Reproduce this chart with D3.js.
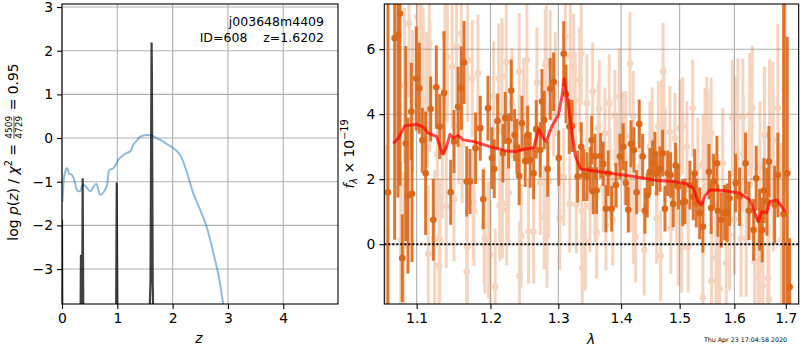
<!DOCTYPE html>
<html>
<head>
<meta charset="utf-8">
<script src="https://cdn.jsdelivr.net/npm/d3@7"></script>
<style>
  body { margin: 0; background: #fff; }
  text { font-family: "DejaVu Sans", sans-serif; fill: #000; }
</style>
</head>
<body>
<div id="chart"></div>
<script>
// ---- left panel: log p(z) ----
var zCoarse = [0.01,0.03,0.055,0.085,0.10,0.13,0.175,0.205,0.24,0.265,0.30,0.335,0.36,0.385,0.42,0.46,0.49,0.52,0.555,0.597,0.627,0.66,0.687,0.72,0.78,0.82,0.845,0.87,0.92,0.99,1.02,1.08,1.17,1.23,1.29,1.35,1.41,1.53,1.62,1.71,1.83,1.95,2.07,2.15,2.25,2.37,2.50,2.62,2.74,2.86,2.93];
var logpCoarse = [-1.45,-0.97,-0.79,-0.69,-0.70,-0.82,-0.84,-0.90,-1.05,-1.18,-1.22,-1.21,-1.10,-1.07,-1.10,-1.15,-1.20,-1.22,-1.14,-1.07,-1.05,-1.20,-1.30,-1.28,-1.18,-1.05,-0.76,-0.72,-0.70,-0.57,-0.50,-0.42,-0.34,-0.31,-0.15,-0.06,0.03,0.07,0.06,0.0,-0.08,-0.18,-0.29,-0.42,-0.75,-1.25,-1.65,-2.05,-2.65,-3.35,-3.95];
var zFine = [0.0,0.008,0.33,0.343,0.352,0.362,0.374,0.388,0.975,0.99,1.005,1.56,1.60,1.617,1.62,1.625,1.64,1.66,4.99];
var logpFine = [-1.87,-5,-5,-2.67,-5,-5,-0.92,-5,-5,-1.02,-5,-5,-3.3,1.5,2.19,1.5,-3.3,-5,-5];
var zTicks = [0,1,2,3,4];
var logpTicks = [-3,-2,-1,0,1,2,3];

// ---- right panel: spectrum ----
var darkWave = [1.0634,1.0718,1.0760,1.0786,1.0815,1.0859,1.0888,1.0931,1.0940,1.0995,
  1.1034,1.1073,1.1117,1.1183,1.1218,1.1258,1.1303,1.1361,1.1450,1.1495,
  1.1550,1.1595,1.1632,1.1669,1.1714,1.1792,1.1857,1.1899,1.1965,1.2021,
  1.2054,1.2102,1.2178,1.2211,1.2260,1.2298,1.2347,1.2380,1.2414,1.2454,
  1.2502,1.2538,1.2576,1.2627,1.2666,1.2726,1.2752,1.2786,1.2838,1.2877,
  1.2929,1.3006,1.3083,1.3118,1.3169,1.3211,1.3300,1.3356,1.3394,1.3446,
  1.3499,1.3521,1.3547,1.3574,1.3601,1.3665,1.3707,1.3751,1.3788,1.3844,
  1.3914,1.3980,1.4034,1.4079,1.4118,1.4163,1.4213,1.4258,1.4302,1.4359,
  1.4398,1.4438,1.4483,1.4529,1.4569,1.4598,1.4655,1.4702,1.4742,1.4789,
  1.4841,1.4887,1.4929,1.4976,1.5054,1.5094,1.5183,1.5243,1.5268,1.5297,
  1.5358,1.5417,1.5527,1.5568,1.5613,1.5674,1.5692,1.5754,1.5817,1.5865,
  1.5910,1.6023,1.6099,1.6213,1.6277,1.6367,1.6417,1.6483,1.6534,1.6567,
  1.6626,1.6665,1.6778,1.6843,1.6957,1.7030,1.7078];
var darkFlux = [1.6,6.34,6.44,7.1,-0.43,3.1,1.5,4.08,1.55,5.1,
  4.8,3.2,2.18,4.16,0.75,4.83,3.62,4.65,1.6,3.16,
  4.23,4.8,5.59,1.93,1.93,2.95,3.57,1.38,4.18,2.65,
  2.32,3.79,2.8,3.88,3.18,4.73,3.36,3.0,2.1,3.72,
  2.56,3.36,2.59,2.18,3.54,2.9,4.39,3.82,2.31,4.78,
  5.0,2.65,5.86,4.62,3.62,3.64,2.08,3.0,2.13,2.08,
  2.29,3.2,1.62,2.7,1.65,2.72,2.47,1.09,2.18,1.09,
  1.82,2.7,3.0,1.88,1.06,3.09,2.9,1.6,3.7,2.7,
  1.03,1.5,2.23,2.49,2.75,2.18,2.31,2.8,1.09,2.18,
  2.13,1.24,2.42,1.77,1.28,1.31,1.82,1.46,2.18,1.26,
  0.95,0.54,2.23,1.11,1.93,2.49,1.03,0.75,0.97,0.97,
  1.41,1.88,1.46,2.49,1.03,0.44,2.03,0.75,0.44,1.65,
  1.31,2.54,1.21,2.13,0.93,2.18,-1.32];
var darkErr = [12,6.2,5.0,5.3,1.35,3.0,2.4,1.5,2.1,1.6,
  1.4,1.0,1.9,1.0,1.26,1.28,1.0,1.9,1.0,0.97,
  1.23,1.28,1.28,1.08,1.0,1.1,1.0,0.92,1.0,0.95,
  0.9,0.85,0.9,0.8,0.85,0.95,0.8,0.85,0.9,0.85,
  0.8,0.9,0.85,0.8,0.9,0.85,1.0,0.9,0.85,0.95,
  0.9,0.85,1.0,0.9,0.85,0.8,0.8,0.75,0.8,0.75,
  0.7,0.75,0.7,0.7,0.72,0.7,0.68,0.72,0.7,0.7,
  0.68,0.7,0.72,0.68,0.7,0.72,0.7,0.68,0.75,0.7,
  0.7,0.68,0.72,0.7,0.7,0.68,0.7,0.72,0.7,0.7,
  0.7,0.72,0.7,0.7,0.72,0.7,0.75,0.72,0.75,0.75,
  0.8,0.8,0.85,0.8,0.85,0.85,0.8,0.85,0.85,0.9,
  0.85,0.9,0.9,0.95,0.9,0.95,1.0,0.95,1.0,1.0,
  1.05,1.1,1.2,1.3,7.0,4.2,1.5];

var lightWave = [1.0618,1.0795,1.0834,1.0843,1.0901,1.0946,1.1008,1.1043,1.1065,1.1086,
  1.1130,1.1139,1.1151,1.1165,1.1174,1.1236,1.1272,1.1294,1.1307,1.1338,
  1.1374,1.1391,1.1404,1.1471,1.1495,1.1530,1.1561,1.1595,1.1606,1.1669,
  1.1677,1.1682,1.1746,1.1760,1.1770,1.1825,1.1909,1.1923,1.1974,1.1997,
  1.2045,1.2067,1.2117,1.2131,1.2164,1.2170,1.2226,1.2232,1.2260,1.2308,
  1.2414,1.2419,1.2443,1.2479,1.2527,1.2551,1.2627,1.2676,1.2726,1.2786,
  1.2802,1.2817,1.2827,1.2853,1.2877,1.2929,1.2954,1.3021,1.3083,1.3108,
  1.3176,1.3185,1.3238,1.3263,1.3279,1.3332,1.3356,1.3367,1.3372,1.3420,
  1.3446,1.3494,1.3537,1.3574,1.3601,1.3627,1.3643,1.3707,1.3733,1.3751,
  1.3805,1.3816,1.3860,1.3897,1.3925,1.3969,1.4034,1.4062,1.4079,1.4146,
  1.4152,1.4201,1.4207,1.4241,1.4313,1.4386,1.4483,1.4522,1.4598,1.4604,
  1.4626,1.4667,1.4684,1.4710,1.4723,1.4742,1.4829,1.4846,1.4917,1.4946,
  1.4976,1.5005,1.5037,1.5054,1.5129,1.5152,1.5231,1.5326,1.5417,1.5420,
  1.5457,1.5488,1.5508,1.5568,1.5575,1.5656,1.5692,1.5723,1.5782,1.5847,
  1.5910,1.5960,1.6004,1.6023,1.6067,1.6126,1.6162,1.6168,1.6225,1.6290,
  1.6321,1.6340,1.6386,1.6452,1.6483,1.6489,1.6548,1.6580,1.6645,1.6665,
  1.6678,1.6744,1.6750,1.6843,1.6908,1.6978];
var lightFlux = [0.46,0.13,-0.07,4.87,6.8,4.39,7.0,6.4,6.44,5.08,
  4.44,4.39,-0.3,6.18,4.85,0.19,2.75,-0.66,0.13,2.8,
  6.44,1.16,5.75,5.46,1.38,6.08,3.64,6.49,3.06,-0.84,
  -0.09,5.67,5.1,1.28,1.03,5.26,0.57,0.18,0.13,-0.33,
  4.54,-1.32,5.09,1.19,5.16,1.26,5.6,1.06,1.57,4.34,
  5.31,-0.98,0.26,4.13,5.67,0.39,0.39,4.97,1.88,0.83,
  5.52,5.64,0.26,1.93,5.5,4.3,4.92,0.8,2.07,6.39,
  1.24,5.79,5.49,4.42,1.21,5.06,5.88,1.03,-0.74,0.08,
  4.34,1.16,4.7,1.46,0.34,3.57,4.16,1.77,3.42,0.59,
  4.34,2.18,0.75,3.96,2.49,4.54,3.31,2.64,3.31,5.55,
  1.77,3.93,0.78,0.22,2.39,-0.18,3.0,3.42,0.8,1.57,
  3.62,-0.36,3.67,5.31,4.1,2.7,3.46,0.49,3.26,1.57,
  0.13,3.57,-0.09,3.64,3.0,-0.09,4.18,2.39,-1.64,2.49,
  3.21,3.54,3.16,3.42,-1.13,-0.43,-0.61,-1.38,2.49,-0.58,
  0.28,3.88,0.77,3.36,3.91,0.18,3.91,2.8,0.18,3.98,
  3.62,4.2,-0.53,-1.02,-0.77,2.39,-1.28,3.36,-1.05,-1.69,
  3.39,3.21,2.18,4.18,0.13,4.77];
var lightErr = [2.6,2.4,2.3,2.4,2.3,2.2,2.3,2.2,2.1,2.2,
  2.1,2.0,2.1,2.2,2.0,2.1,2.0,2.0,1.9,2.0,
  2.1,1.9,2.0,1.9,1.9,2.0,1.8,1.9,1.8,1.9,
  1.8,1.9,1.8,1.8,1.7,1.8,1.8,1.7,1.8,1.7,
  1.7,1.8,1.7,1.7,1.8,1.7,1.8,1.7,1.6,1.7,
  1.8,1.7,1.6,1.6,1.8,1.6,1.6,1.7,1.6,1.6,
  1.7,1.7,1.6,1.6,1.7,1.6,1.6,1.6,1.5,1.7,
  1.5,1.6,1.6,1.5,1.5,1.6,1.6,1.5,1.5,1.5,
  1.5,1.4,1.5,1.4,1.4,1.4,1.5,1.4,1.4,1.4,
  1.5,1.4,1.4,1.4,1.4,1.5,1.4,1.4,1.4,1.6,
  1.4,1.4,1.4,1.4,1.4,1.4,1.4,1.4,1.4,1.4,
  1.4,1.4,1.4,1.5,1.4,1.4,1.4,1.4,1.4,1.4,
  1.4,1.5,1.4,1.5,1.4,1.4,1.5,1.5,1.6,1.5,
  1.6,1.6,1.6,1.7,1.7,1.7,1.7,1.7,1.7,1.7,
  1.7,1.8,1.7,1.8,1.8,1.8,1.8,1.8,1.8,1.9,
  1.9,1.9,1.9,2.0,2.0,2.0,2.1,2.1,2.2,2.3,
  2.3,2.4,2.4,2.6,3.0,3.2];

var modelWave = [1.0701,1.0764,1.0848,1.1000,1.1086,1.1151,1.1263,1.1307,1.1338,1.1388,
  1.1441,1.1485,1.1553,1.1621,1.1760,1.1993,1.2227,1.2371,1.2491,1.2627,
  1.2703,1.2783,1.2818,1.2900,1.3002,1.3055,1.3091,1.3160,1.3211,1.3263,
  1.3342,1.3388,1.3547,1.3762,1.4034,1.4313,1.4598,1.4887,1.5123,1.5243,
  1.5332,1.5393,1.5454,1.5545,1.5792,1.6105,1.6296,1.6393,1.6457,1.6524,
  1.6622,1.6685,1.6818,1.6918,1.6983];
var modelFlux = [3.1,3.26,3.64,3.69,3.6,3.42,3.31,3.0,2.78,2.95,
  3.38,3.26,3.34,3.21,3.16,3.0,2.87,2.85,2.92,2.97,
  3.52,3.23,3.16,3.62,3.98,4.54,5.09,4.23,3.42,2.7,
  2.34,2.3,2.26,2.2,2.13,2.05,1.96,1.93,1.86,1.72,
  1.31,1.21,1.49,1.67,1.65,1.57,1.36,0.95,0.7,1.0,
  0.97,1.31,1.36,1.16,1.0];
var waveTicks = [1.1,1.2,1.3,1.4,1.5,1.6,1.7];
var fluxTicks = [0,2,4,6];

var svg = d3.select("#chart").append("svg").attr("width", 800).attr("height", 350);
var defs = svg.append("defs");

function styleAxis(g) {
  g.select(".domain").remove();
  g.selectAll(".tick line").attr("stroke", "#000").attr("stroke-width", 1.1);
  g.selectAll(".tick text").attr("font-size", 13.9).attr("fill", "#000")
    .attr("font-family", "DejaVu Sans");
}

function panel(id, box, xs, ys, xt, yt, xf, yf) {
  defs.append("clipPath").attr("id", id).append("rect")
    .attr("x", box.x0).attr("y", box.y0)
    .attr("width", box.x1 - box.x0).attr("height", box.y1 - box.y0);
  var grid = svg.append("g").attr("stroke", "#b0b0b0").attr("stroke-width", 1.1);
  xt.forEach(function(t) {
    grid.append("line").attr("x1", xs(t)).attr("x2", xs(t)).attr("y1", box.y0).attr("y2", box.y1);
  });
  yt.forEach(function(t) {
    grid.append("line").attr("x1", box.x0).attr("x2", box.x1).attr("y1", ys(t)).attr("y2", ys(t));
  });
  svg.append("g").attr("transform", "translate(0," + box.y1 + ")")
    .call(d3.axisBottom(xs).tickValues(xt).tickFormat(xf).tickSize(5).tickPadding(4))
    .call(styleAxis);
  svg.append("g").attr("transform", "translate(" + box.x0 + ",0)")
    .call(d3.axisLeft(ys).tickValues(yt).tickFormat(yf).tickSize(5).tickPadding(4))
    .call(styleAxis);
  return svg.append("g").attr("clip-path", "url(#" + id + ")");
}

function frame(box) {
  svg.append("rect").attr("x", box.x0).attr("y", box.y0)
    .attr("width", box.x1 - box.x0).attr("height", box.y1 - box.y0)
    .attr("fill", "none").attr("stroke", "#000").attr("stroke-width", 1.1);
}

// left panel
var L = {x0: 62, x1: 338, y0: 4, y1: 304};
var xL = d3.scaleLinear().domain([0, 4.99]).range([L.x0, L.x1]);
var yL = d3.scaleLinear().domain([-3.8, 3.07]).range([L.y1, L.y0]);
var gL = panel("clipL", L, xL, yL, zTicks, logpTicks, d3.format("d"), d3.format("d"));

gL.append("path")
  .datum(d3.range(zCoarse.length))
  .attr("fill", "none").attr("stroke", "#1f77b4").attr("stroke-opacity", 0.5)
  .attr("stroke-width", 2)
  .attr("d", d3.line().curve(d3.curveMonotoneX)
    .x(function(i) { return xL(zCoarse[i]); })
    .y(function(i) { return yL(logpCoarse[i]); }));

gL.append("path")
  .datum(d3.range(zFine.length))
  .attr("fill", "none").attr("stroke", "#000").attr("stroke-opacity", 0.75)
  .attr("stroke-width", 2.2)
  .attr("d", d3.line()
    .x(function(i) { return xL(zFine[i]); })
    .y(function(i) { return yL(logpFine[i]); }));
frame(L);

svg.append("text").attr("x", 324).attr("y", 26).attr("text-anchor", "end")
  .attr("font-size", 12.5).text("j003648m4409");
svg.append("text").attr("x", 324).attr("y", 42).attr("text-anchor", "end")
  .attr("font-size", 12.5).text("ID=608\u00a0\u00a0\u00a0\u00a0z=1.6202");

// left y label with the chi2 fraction
var lab = svg.append("g").attr("transform", "translate(18,152) rotate(-90)");
var t1 = lab.append("text").attr("font-size", 13.9);
t1.append("tspan").text("log ");
t1.append("tspan").attr("font-style", "italic").text("p");
t1.append("tspan").text("(");
t1.append("tspan").attr("font-style", "italic").text("z");
t1.append("tspan").text(") / ");
t1.append("tspan").attr("font-style", "italic").text("χ");
t1.append("tspan").attr("font-size", 9.7).attr("dy", -6).text("2");
t1.append("tspan").attr("dy", 6).text("\u00a0=\u00a0");
var w1 = t1.node().getComputedTextLength() + 1;
var num = lab.append("text").attr("font-size", 9).attr("x", w1).attr("y", -6).text("4509");
var den = lab.append("text").attr("font-size", 9).attr("x", w1).attr("y", 4).text("4729");
var wf = Math.max(num.node().getComputedTextLength(), den.node().getComputedTextLength());
lab.append("line").attr("x1", w1).attr("x2", w1 + wf).attr("y1", -4).attr("y2", -4)
  .attr("stroke", "#000").attr("stroke-width", 0.7);
var t3 = lab.append("text").attr("font-size", 13.9).attr("x", w1 + wf + 1).text("\u00a0=\u00a00.95");
var wTot = w1 + wf + 1 + t3.node().getComputedTextLength();
lab.selectAll("*").filter(function() { return this.parentNode === lab.node(); })
  .attr("transform", "translate(" + (-wTot / 2) + ",0)");

svg.append("text").attr("x", 199).attr("y", 343).attr("text-anchor", "middle")
  .attr("font-size", 13.9).attr("font-style", "italic").text("z");

// right panel
var R = {x0: 384.3, x1: 798.7, y0: 4, y1: 304};
var xR = d3.scaleLog().domain([1.0588, 1.7261]).range([R.x0, R.x1]);
var yR = d3.scaleLinear().domain([-1.84, 7.39]).range([R.y1, R.y0]);
var gR = panel("clipR", R, xR, yR, waveTicks, fluxTicks, d3.format(".1f"), d3.format("d"));

var orange = "#d9681b";
var light = gR.append("g").attr("opacity", 0.28);
lightWave.forEach(function(w, i) {
  light.append("line").attr("x1", xR(w)).attr("x2", xR(w))
    .attr("y1", yR(lightFlux[i] - lightErr[i])).attr("y2", yR(lightFlux[i] + lightErr[i]))
    .attr("stroke", orange).attr("stroke-width", 3);
  light.append("circle").attr("cx", xR(w)).attr("cy", yR(lightFlux[i])).attr("r", 3.3)
    .attr("fill", orange);
});

var dark = gR.append("g");
darkWave.forEach(function(w, i) {
  dark.append("line").attr("x1", xR(w)).attr("x2", xR(w))
    .attr("y1", yR(darkFlux[i] - darkErr[i])).attr("y2", yR(darkFlux[i] + darkErr[i]))
    .attr("stroke", orange).attr("stroke-width", 3).attr("stroke-opacity", 0.9);
  dark.append("circle").attr("cx", xR(w)).attr("cy", yR(darkFlux[i])).attr("r", 3.3)
    .attr("fill", orange);
});

gR.append("path")
  .datum(d3.range(modelWave.length))
  .attr("fill", "none").attr("stroke", "red").attr("stroke-opacity", 0.7)
  .attr("stroke-width", 3).attr("stroke-linejoin", "round")
  .attr("d", d3.line()
    .x(function(i) { return xR(modelWave[i]); })
    .y(function(i) { return yR(modelFlux[i]); }));

gR.append("line").attr("x1", R.x0).attr("x2", R.x1).attr("y1", yR(0)).attr("y2", yR(0))
  .attr("stroke", "#000").attr("stroke-width", 2).attr("stroke-dasharray", "2,2");
frame(R);

var ylab = svg.append("text").attr("transform", "translate(354,154) rotate(-90)")
  .attr("text-anchor", "middle").attr("font-size", 13.9);
ylab.append("tspan").attr("font-style", "italic").text("f");
ylab.append("tspan").attr("font-style", "italic").attr("font-size", 9.7).attr("dy", 3).text("λ");
ylab.append("tspan").attr("dy", -3).text("\u00a0×\u00a010");
ylab.append("tspan").attr("font-size", 9.7).attr("dy", -6).text("−19");

svg.append("text").attr("x", 591).attr("y", 344).attr("text-anchor", "middle")
  .attr("font-size", 13.9).attr("font-style", "italic").text("λ");

svg.append("text").attr("x", 787).attr("y", 342).attr("text-anchor", "end")
  .attr("font-size", 6.3).attr("fill", "#000").text("Thu Apr 23 17:04:58 2020");
</script>
</body>
</html>
